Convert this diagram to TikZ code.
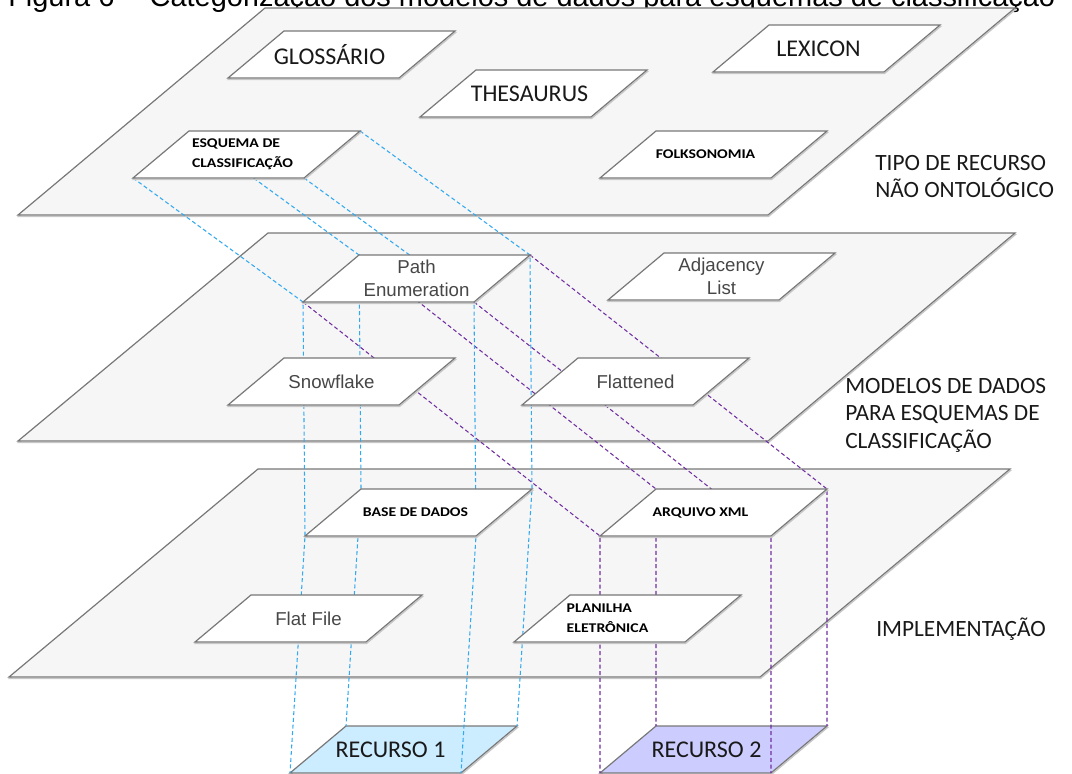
\documentclass[tikz,border=0pt]{standalone}
\usepackage{fontspec}
\setmainfont{Carlito}
\newfontfamily\arialfont{Liberation Sans}
\newfontfamily\rotulofont[FakeStretch=1.18]{Carlito}
\definecolor{tracoazul}{RGB}{51,170,240}
\definecolor{tracoroxo}{RGB}{112,48,160}
\definecolor{borda}{RGB}{120,120,120}
\definecolor{fundo}{RGB}{246,246,246}
\definecolor{recazul}{RGB}{204,236,255}
\definecolor{recroxo}{RGB}{204,204,255}
\tikzset{
  sombra/.style={preaction={draw=black!22, line width=1pt, transform canvas={shift={(0.4pt,-1.1pt)}}}},
  plano/.style={draw=borda, fill=fundo, line width=0.9pt, sombra},
  caixa/.style={draw=borda, fill=white, line width=0.9pt, sombra},
  azul/.style={draw=tracoazul, dash pattern=on 3pt off 2pt, line width=0.8pt},
  roxo/.style={draw=tracoroxo, dash pattern=on 3pt off 2pt, line width=0.8pt},
  titulo/.style={font=\arialfont\fontsize{21.7}{26}\selectfont, inner sep=0pt},
  grande/.style={font=\fontsize{18}{21}\selectfont, text=black!90},
  fino/.style={font=\arialfont\fontsize{14}{17}\selectfont, text=black!72, align=center},
  miudo/.style={font=\rotulofont\bfseries\fontsize{10}{15}\selectfont, align=left},
  lado/.style={font=\fontsize{17.5}{20.5}\selectfont, align=left, inner sep=0pt, text=black!90}
}
\begin{document}
\begin{tikzpicture}[x=0.75pt,y=-0.75pt]
\useasboundingbox (0,0) rectangle (1072,774);
\node[titulo, anchor=base west] (figura) at (8,7) {Figura 6 -- Categorização dos modelos de dados para esquemas de classificação};

\draw[plano] (265,8) -- (1015,8) -- (768,215) -- (18,215) -- cycle;
\draw[plano] (268,233) -- (1015,233) -- (768,441) -- (18,441) -- cycle;
\draw[plano] (258,469) -- (1010,469) -- (760,677) -- (9,677) -- cycle;

\foreach \n/\x/\y/\dx in {glos/228/78/-12, lex/713/72/-8, thes/420/117/-4, esq/133/178/-4, folk/600/178/-8,
    path/303/302/0, adj/608/300/0, snow/228/405/-10, flat/522/405/0,
    base/305/536/-3, arq/600/536/-13, ffile/195/642/0, plan/514/642/-20,
    rec1/290/773/-13, rec2/600/773/-7} {
  \coordinate (\n-bl) at (\x,\y);
  \coordinate (\n-br) at (\x+171,\y);
  \coordinate (\n-tr) at (\x+227,\y-47);
  \coordinate (\n-tl) at (\x+56,\y-47);
  \coordinate (\n) at (\x+113.5+\dx,\y-23.5);
}

\draw[caixa, fill=recazul] (rec1-bl) -- (rec1-br) -- (rec1-tr) -- (rec1-tl) -- cycle;
\draw[caixa, fill=recroxo] (rec2-bl) -- (rec2-br) -- (rec2-tr) -- (rec2-tl) -- cycle;

\foreach \c in {tl,tr,bl,br} {
  \draw[azul] (esq-\c) -- (path-\c) -- (base-\c) -- (rec1-\c);
  \draw[roxo] (path-\c) -- (arq-\c) -- (rec2-\c);
}

\foreach \n in {glos,lex,thes,esq,folk,path,adj,snow,flat,base,arq,ffile,plan}
  \draw[caixa] (\n-bl) -- (\n-br) -- (\n-tr) -- (\n-tl) -- cycle;

\foreach \n/\s/\t in {glos/grande/GLOSSÁRIO, lex/grande/LEXICON, thes/grande/THESAURUS,
    esq/miudo/{ESQUEMA DE\\CLASSIFICAÇÃO}, folk/miudo/FOLKSONOMIA,
    path/fino/{Path\\Enumeration}, adj/fino/{Adjacency\\List}, snow/fino/Snowflake, flat/fino/Flattened,
    base/miudo/BASE DE DADOS, arq/miudo/ARQUIVO XML, ffile/fino/Flat File, plan/miudo/{PLANILHA\\ELETRÔNICA},
    rec1/grande/RECURSO 1, rec2/grande/RECURSO 2}
  \node[\s] (\n-rot) at (\n) {\t};

\node[lado, anchor=north west] (tipo) at (875,155) {TIPO DE RECURSO\\NÃO ONTOLÓGICO};
\node[lado, anchor=north west] (modelos) at (845,378) {MODELOS DE DADOS\\PARA ESQUEMAS DE\\CLASSIFICAÇÃO};
\node[lado, anchor=base west] (implem) at (876,636) {IMPLEMENTAÇÃO};
\end{tikzpicture}
\end{document}
